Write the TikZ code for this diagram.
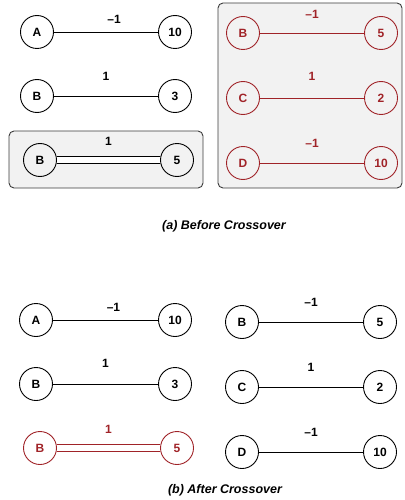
\documentclass[tikz,border=0pt]{standalone}
\usepackage{fontspec}
\setmainfont{Liberation Sans}
\definecolor{crossred}{RGB}{160,35,40}
\definecolor{panel}{RGB}{242,242,242}
\definecolor{frame}{RGB}{60,60,60}

\begin{document}
\begin{tikzpicture}[x=1pt, y=-1pt,
  gene/.style={circle, draw, line width=0.9pt, minimum size=33pt, inner sep=0pt, font=\fontsize{12}{14}\bfseries},
  link/.style={line width=0.9pt},
  twin/.style={line width=0.9pt, double, double distance=6pt},
  wt/.style={font=\fontsize{12}{14}\bfseries, above=5pt, midway},
  box/.style={draw=frame, fill=panel, rounded corners=5pt, line width=0.9pt},
  caption/.style={font=\fontsize{12.5}{14}\bfseries\itshape}]
  \useasboundingbox (0,0) rectangle (404,500);

  % Selected boxes
  \draw[box] (9,131) rectangle (203,188);
  \draw[box] (218,3) rectangle (402,188);

  % (a) parent one
  \node[gene] (a1) at (37,32) {A};
  \node[gene] (a2) at (175,32) {10};
  \draw[link] (a1) -- (a2) node[wt, xshift=8pt] {\textendash1};
  \node[gene] (b1) at (37,96) {B};
  \node[gene] (b2) at (175,96) {3};
  \draw[link] (b1) -- (b2) node[wt, above=7pt] {1};
  \node[gene] (c1) at (40,160) {B};
  \node[gene] (c2) at (177,160) {5};
  \draw[twin] (c1) -- (c2) node[wt, above=6pt] {1};

  % (a) parent two
  \begin{scope}[color=crossred]
    \node[gene] (d1) at (243,33) {B};
    \node[gene] (d2) at (381,33) {5};
    \draw[link] (d1) -- (d2) node[wt, above=6pt] {\textendash1};
    \node[gene] (e1) at (243,98) {C};
    \node[gene] (e2) at (381,98) {2};
    \draw[link] (e1) -- (e2) node[wt, above=9pt] {1};
    \node[gene] (f1) at (243,163) {D};
    \node[gene] (f2) at (381,163) {10};
    \draw[link] (f1) -- (f2) node[wt, above=7pt] {\textendash1};
  \end{scope}

  \node[caption] (capa) at (224,226) {(a) Before Crossover};

  % (b) offspring one
  \node[gene] (g1) at (36,320) {A};
  \node[gene] (g2) at (175,320) {10};
  \draw[link] (g1) -- (g2) node[wt, xshift=8pt] {\textendash1};
  \node[gene] (h1) at (36,384) {B};
  \node[gene] (h2) at (175,384) {3};
  \draw[link] (h1) -- (h2) node[wt, above=8pt] {1};
  \begin{scope}[color=crossred]
    \node[gene] (i1) at (40,448) {B};
    \node[gene] (i2) at (177,448) {5};
    \draw[twin] (i1) -- (i2) node[wt, above=6pt] {1};
  \end{scope}

  % (b) offspring two
  \node[gene] (j1) at (242,322) {B};
  \node[gene] (j2) at (380,322) {5};
  \draw[link] (j1) -- (j2) node[wt, above=7pt] {\textendash1};
  \node[gene] (k1) at (242,387) {C};
  \node[gene] (k2) at (380,387) {2};
  \draw[link] (k1) -- (k2) node[wt, above=7pt] {1};
  \node[gene] (l1) at (242,452) {D};
  \node[gene] (l2) at (380,452) {10};
  \draw[link] (l1) -- (l2) node[wt, above=7pt] {\textendash1};

  \node[caption] (capb) at (225,490) {(b) After Crossover};
\end{tikzpicture}
\end{document}
